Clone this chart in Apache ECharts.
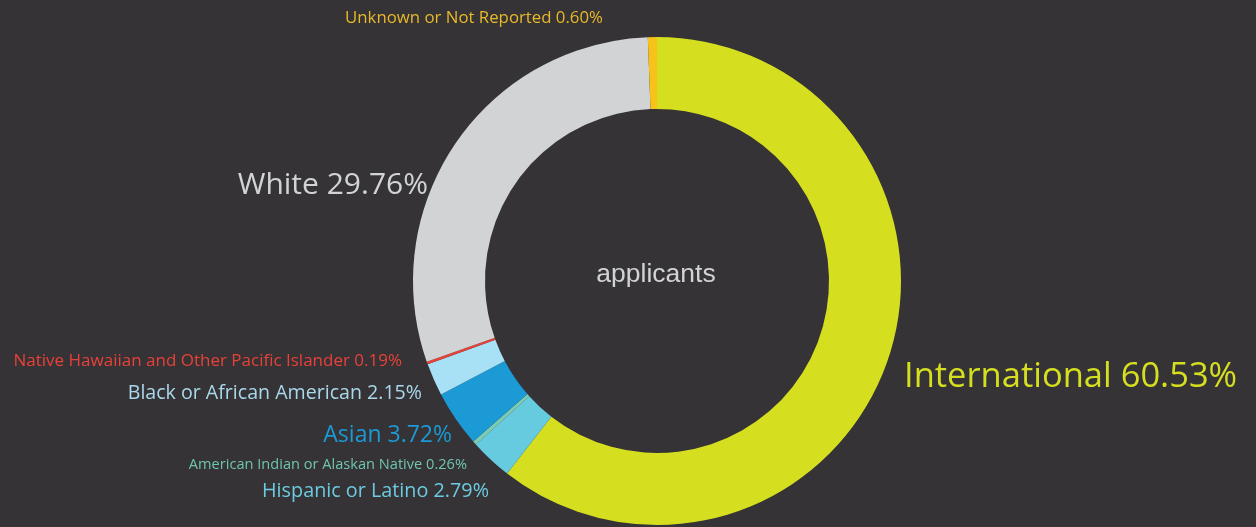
<!DOCTYPE html>
<html><head><meta charset="utf-8">
<script src="https://cdn.jsdelivr.net/npm/echarts@6/dist/echarts.min.js"></script>
<style>html,body{margin:0;padding:0;background:#353335;}#c{width:1256px;height:527px;}</style>
</head><body><div id="c"></div>
<script>
const categories = ["International","Hispanic or Latino","American Indian or Alaskan Native","Asian","Black or African American","Native Hawaiian and Other Pacific Islander","White","Unknown or Not Reported"];
const values = [60.53, 2.79, 0.26, 3.72, 2.15, 0.19, 29.76, 0.60];
const sliceColors = ["#d5df20","#67cbe0","#7ecbb3","#1b9ad6","#a8e0f6","#e8413a","#d2d3d5","#f7c31b"];
const labelColors = ["#d5df20","#6ccbe0","#6fc4b0","#1b9ad6","#a9d8ec","#e8413a","#d2d3d5","#e8b92a"];
const labelSizes = [34.5, 19.8, 14.6, 23, 19.6, 17, 30, 16.8];
// label anchor placement (layout only)
const labelPos = [
  {x:904, y:377, align:'left'},
  {x:489, y:491, align:'right'},
  {x:467, y:465, align:'right'},
  {x:452, y:435, align:'right'},
  {x:422, y:393, align:'right'},
  {x:402, y:361, align:'right'},
  {x:428, y:185, align:'right'},
  {x:474, y:18, align:'center'}
];
const chart = echarts.init(document.getElementById('c'));
chart.setOption({
  backgroundColor:'#353335',
  animation:false,
  graphic:[{type:'text',x:656,y:275,style:{text:'applicants',fill:'#d2d3d5',fontSize:26.5,
    fontFamily:'Liberation Sans',align:'center',verticalAlign:'middle'}}],
  series:[{
    type:'pie',
    center:[657,281],
    radius:[172,244],
    startAngle:90,
    clockwise:true,
    avoidLabelOverlap:false,
    labelLine:{show:false},
    data: categories.map((n,i)=>({name:n,value:values[i],
      itemStyle:{color:sliceColors[i]},
      label:{color:labelColors[i],fontSize:labelSizes[i]}})),
    label:{show:true,position:'outside',fontFamily:'Open Sans',
      formatter:p=>p.name+' '+p.value.toFixed(2)+'%'},
    labelLayout:function(p){
      const L = labelPos[p.dataIndex];
      return {x:L.x,y:L.y,align:L.align,verticalAlign:'middle'};
    }
  }]
});
</script></body></html>
